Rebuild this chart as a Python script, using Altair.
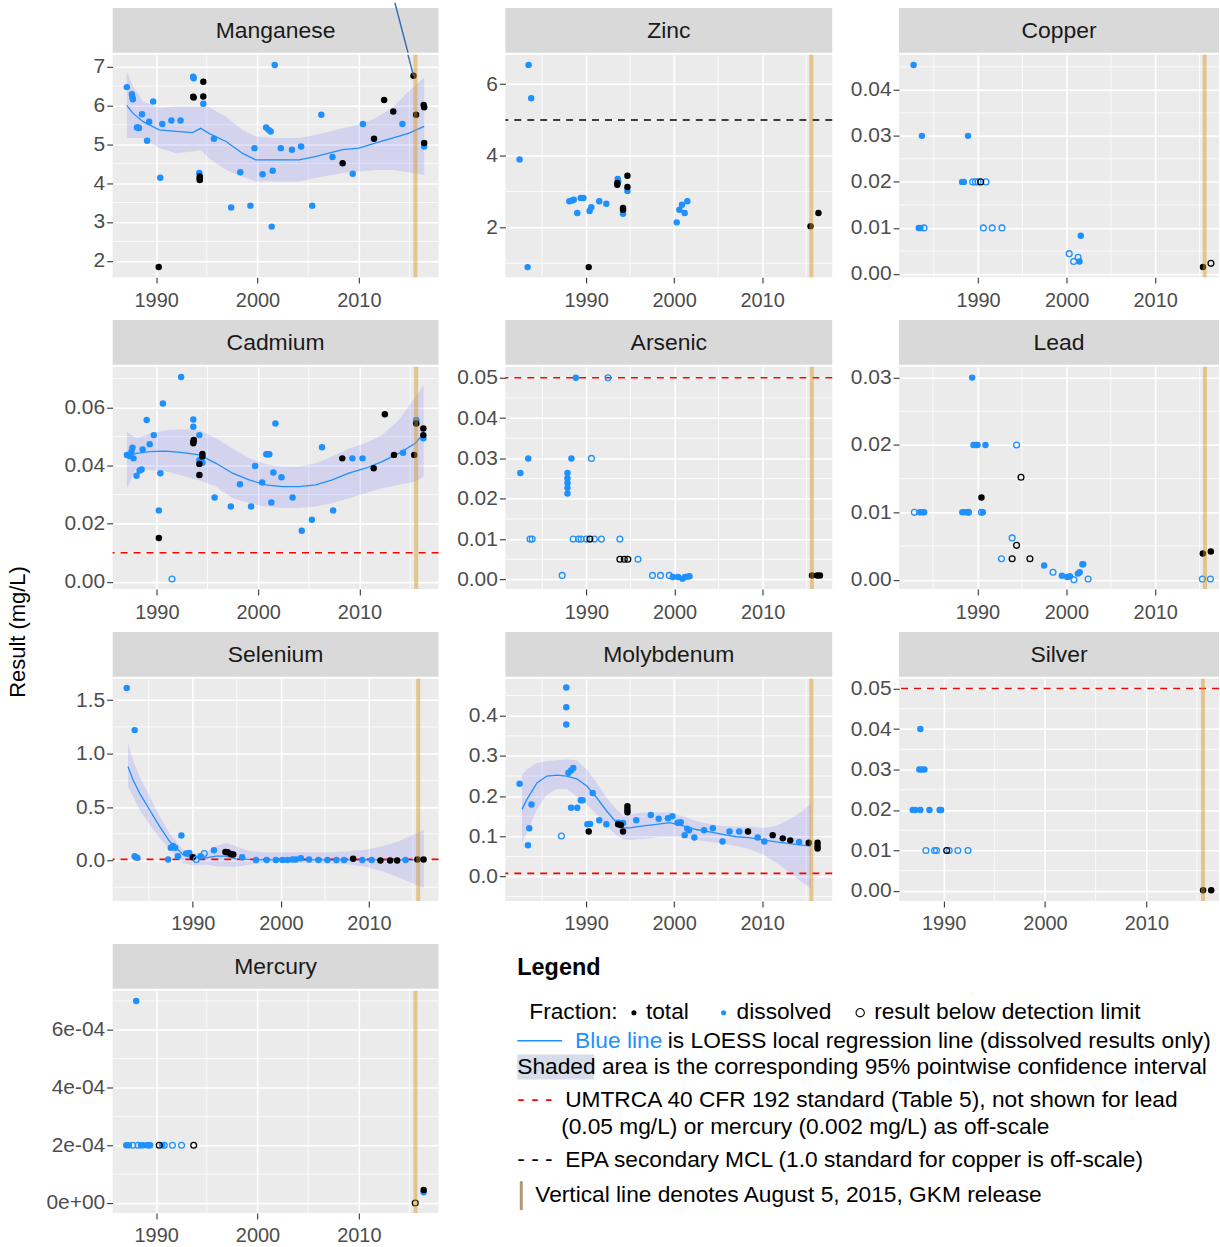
import altair as alt
import pandas as pd

# ------------------------------------------------------------------ data
# Each sample: (decimal year, result in mg/L, code)
#   D = dissolved, T = total, d / t = that fraction but below detection limit
MANGANESE = [
    (1987.1, 6.47, "D"), (1987.6, 6.29, "D"), (1987.65, 6.21, "D"), (1987.7, 6.16, "D"),
    (1988.1, 5.43, "D"), (1988.2, 5.43, "D"), (1988.3, 5.42, "D"), (1988.6, 5.77, "D"),
    (1989.1, 5.09, "D"), (1989.3, 5.58, "D"), (1989.7, 6.10, "D"), (1990.4, 4.14, "D"),
    (1990.6, 5.52, "D"), (1991.5, 5.61, "D"), (1992.4, 5.61, "D"), (1993.65, 6.74, "D"),
    (1993.7, 6.70, "D"), (1994.25, 4.26, "D"), (1994.65, 6.04, "D"), (1995.7, 5.14, "D"),
    (1997.4, 3.37, "D"), (1998.3, 4.28, "D"), (1999.3, 3.42, "D"), (1999.7, 4.90, "D"),
    (2000.5, 4.23, "D"), (2000.85, 5.43, "D"), (2001.1, 5.37, "D"), (2001.3, 5.33, "D"),
    (2001.4, 2.88, "D"), (2001.5, 4.32, "D"), (2001.7, 7.04, "D"), (2002.3, 4.90, "D"),
    (2003.4, 4.86, "D"), (2004.3, 4.94, "D"), (2005.4, 3.42, "D"), (2006.3, 5.76, "D"),
    (2007.4, 4.67, "D"), (2009.4, 4.24, "D"), (2010.4, 5.52, "D"), (2014.3, 5.52, "D"),
    (2016.45, 4.94, "D"),
    (1990.25, 1.84, "T"), (1993.7, 6.20, "T"), (1993.65, 6.22, "T"), (1994.65, 6.23, "T"),
    (1994.65, 6.61, "T"), (1994.3, 4.17, "T"), (1994.3, 4.08, "T"), (1994.3, 4.12, "T"),
    (2008.4, 4.51, "T"), (2011.5, 5.14, "T"), (2012.5, 6.14, "T"), (2013.4, 5.84, "T"),
    (2015.4, 6.76, "T"), (2015.65, 5.76, "T"), (2016.4, 6.01, "T"), (2016.45, 5.95, "T"),
    (2016.45, 5.03, "T"),
]
ZINC = [
    (1983.47, 6.54, "D"), (1983.77, 5.61, "D"), (1982.45, 3.90, "D"), (1983.36, 0.89, "D"),
    (1988.1, 2.73, "D"), (1988.4, 2.75, "D"), (1988.6, 2.77, "D"), (1989.0, 2.40, "D"),
    (1989.4, 2.82, "D"), (1989.7, 2.82, "D"), (1990.4, 2.46, "D"), (1990.6, 2.56, "D"),
    (1991.5, 2.73, "D"), (1992.3, 2.66, "D"), (1993.6, 3.35, "D"), (1993.65, 3.28, "D"),
    (1994.2, 2.38, "D"), (1994.7, 3.02, "D"), (2000.3, 2.14, "D"), (2000.6, 2.49, "D"),
    (2000.9, 2.63, "D"), (2001.2, 2.40, "D"), (2001.5, 2.73, "D"),
    (1990.3, 0.89, "T"), (1993.55, 3.24, "T"), (1993.55, 3.19, "T"), (1994.2, 2.54, "T"),
    (1994.2, 2.49, "T"), (1994.7, 3.44, "T"), (1994.7, 3.13, "T"), (2015.5, 2.03, "T"),
    (2016.4, 2.40, "T"),
]
COPPER = [
    (1982.72, 0.0454, "D"), (1983.66, 0.030, "D"), (1988.87, 0.030, "D"), (1983.3, 0.010, "D"),
    (1983.5, 0.010, "D"), (1988.2, 0.020, "D"), (1988.4, 0.020, "D"), (2001.45, 0.0027, "D"),
    (2001.6, 0.0083, "D"),
    (1983.9, 0.010, "d"), (1989.4, 0.020, "d"), (1989.7, 0.020, "d"), (1990.0, 0.020, "d"),
    (1990.9, 0.020, "d"), (1990.6, 0.010, "d"), (1991.6, 0.010, "d"), (1992.7, 0.010, "d"),
    (2000.3, 0.0044, "d"), (2000.8, 0.0027, "d"), (2001.3, 0.0036, "d"),
    (1990.3, 0.020, "t"), (2016.3, 0.0023, "t"),
    (2015.4, 0.0015, "T"),
]
CADMIUM = [
    (1987.05, 0.0437, "D"), (1987.3, 0.0433, "D"), (1987.5, 0.0448, "D"), (1987.6, 0.0462, "D"),
    (1987.7, 0.0425, "D"), (1988.0, 0.0365, "D"), (1988.3, 0.0383, "D"), (1988.5, 0.0387, "D"),
    (1988.6, 0.0456, "D"), (1989.0, 0.0557, "D"), (1989.3, 0.0474, "D"), (1989.7, 0.0505, "D"),
    (1990.2, 0.0246, "D"), (1990.35, 0.0374, "D"), (1990.6, 0.0614, "D"), (1992.4, 0.0705, "D"),
    (1993.6, 0.0559, "D"), (1993.6, 0.0534, "D"), (1994.2, 0.0505, "D"), (1994.2, 0.0419, "D"),
    (1994.5, 0.0410, "D"), (1995.7, 0.0290, "D"), (1997.3, 0.0259, "D"), (1998.2, 0.0336, "D"),
    (1999.3, 0.0259, "D"), (1999.7, 0.0399, "D"), (2000.4, 0.0342, "D"), (2000.8, 0.0439, "D"),
    (2000.95, 0.0439, "D"), (2001.1, 0.0439, "D"), (2001.3, 0.0273, "D"), (2001.5, 0.0376, "D"),
    (2001.7, 0.0545, "D"), (2002.3, 0.0360, "D"), (2003.4, 0.0290, "D"), (2004.3, 0.0176, "D"),
    (2005.3, 0.0214, "D"), (2006.3, 0.0463, "D"), (2007.4, 0.0246, "D"), (2009.3, 0.0425, "D"),
    (2010.3, 0.0425, "D"), (2014.3, 0.0444, "D"), (2015.6, 0.0557, "D"), (2016.3, 0.0494, "D"),
    (1991.5, 0.0010, "d"),
    (1990.2, 0.0151, "T"), (1993.6, 0.0482, "T"), (1993.6, 0.0477, "T"), (1993.65, 0.0488, "T"),
    (1994.2, 0.0406, "T"), (1994.2, 0.0368, "T"), (1994.5, 0.0440, "T"), (1994.5, 0.0431, "T"),
    (2008.3, 0.0425, "T"), (2011.4, 0.0391, "T"), (2012.5, 0.0577, "T"), (2013.4, 0.0437, "T"),
    (2015.4, 0.0437, "T"), (2015.6, 0.0545, "T"), (2016.3, 0.0528, "T"), (2016.3, 0.0505, "T"),
]
ARSENIC = [
    (1982.5, 0.0264, "D"), (1983.4, 0.030, "D"), (1988.8, 0.050, "D"), (1988.3, 0.030, "D"),
    (1987.85, 0.0264, "D"), (1987.85, 0.0251, "D"), (1987.85, 0.0239, "D"), (1987.85, 0.0227, "D"),
    (1987.85, 0.0213, "D"), (1999.8, 0.0006, "D"), (2000.4, 0.0006, "D"), (2000.9, 0.0002, "D"),
    (2001.2, 0.0006, "D"), (2001.5, 0.0007, "D"), (2001.7, 0.0008, "D"),
    (1992.45, 0.050, "d"), (1983.6, 0.010, "d"), (1983.85, 0.010, "d"), (1987.25, 0.001, "d"),
    (1990.57, 0.030, "d"), (1988.5, 0.010, "d"), (1989.1, 0.010, "d"), (1989.4, 0.010, "d"),
    (1990.0, 0.010, "d"), (1990.9, 0.010, "d"), (1991.7, 0.010, "d"), (1993.8, 0.010, "d"),
    (1995.85, 0.005, "d"), (1997.5, 0.001, "d"), (1998.4, 0.001, "d"), (1999.4, 0.001, "d"),
    (1990.4, 0.010, "t"), (1993.8, 0.005, "t"), (1994.3, 0.005, "t"), (1994.7, 0.005, "t"),
    (2015.6, 0.001, "T"), (2016.2, 0.001, "T"), (2016.5, 0.001, "T"),
]
LEAD = [
    (1989.4, 0.030, "D"), (1989.55, 0.020, "D"), (1989.8, 0.020, "D"), (1990.0, 0.020, "D"),
    (1990.9, 0.020, "D"), (1983.5, 0.010, "D"), (1983.8, 0.010, "D"), (1984.0, 0.010, "D"),
    (1988.3, 0.010, "D"), (1988.6, 0.010, "D"), (1988.9, 0.010, "D"), (1990.6, 0.010, "D"),
    (1997.5, 0.0021, "D"), (1999.5, 0.0006, "D"), (2000.1, 0.0004, "D"), (2000.4, 0.0005, "D"),
    (2001.3, 0.0009, "D"), (2001.5, 0.0011, "D"), (2001.8, 0.0023, "D"), (2001.9, 0.0023, "D"),
    (1982.9, 0.010, "d"), (1989.0, 0.010, "d"), (1990.45, 0.010, "d"), (1994.4, 0.020, "d"),
    (1993.9, 0.0062, "d"), (1992.7, 0.0031, "d"), (1998.5, 0.0011, "d"), (2000.85, 0.0, "d"),
    (2002.45, 0.0001, "d"), (2015.3, 0.0001, "d"), (2016.2, 0.0001, "d"),
    (1994.9, 0.0152, "t"), (1994.4, 0.0051, "t"), (1993.9, 0.0031, "t"), (1995.9, 0.0031, "t"),
    (1990.45, 0.0122, "T"), (2015.35, 0.0039, "T"), (2016.25, 0.0042, "T"),
]
SELENIUM = [
    (1982.5, 1.615, "D"), (1983.4, 1.22, "D"), (1983.4, 0.04, "D"), (1983.7, 0.025, "D"),
    (1987.2, 0.01, "D"), (1987.5, 0.12, "D"), (1987.75, 0.135, "D"), (1988.0, 0.12, "D"),
    (1988.3, 0.04, "D"), (1988.7, 0.233, "D"), (1989.25, 0.065, "D"), (1989.6, 0.07, "D"),
    (1990.9, 0.04, "D"), (1992.4, 0.096, "D"), (1995.6, 0.03, "D"), (1997.17, 0.005, "D"),
    (1998.38, 0.005, "D"), (1999.43, 0.005, "D"), (2000.19, 0.005, "D"), (2000.75, 0.005, "D"),
    (2001.32, 0.01, "D"), (2001.7, 0.01, "D"), (2002.26, 0.02, "D"), (2003.2, 0.01, "D"),
    (2004.26, 0.005, "D"), (2005.28, 0.005, "D"), (2006.3, 0.005, "D"), (2007.17, 0.005, "D"),
    (2009.25, 0.005, "D"), (2010.3, 0.005, "D"), (2014.15, 0.005, "D"),
    (1990.4, 0.01, "d"), (1991.3, 0.065, "d"),
    (1990.0, 0.03, "T"), (1993.7, 0.08, "T"), (1993.95, 0.077, "T"), (1994.3, 0.06, "T"),
    (1994.6, 0.056, "T"), (2008.2, 0.016, "T"), (2011.3, 0.0, "T"), (2012.4, 0.0, "T"),
    (2013.2, 0.0, "T"), (2015.5, 0.01, "T"), (2016.2, 0.01, "T"),
]
MOLYBDENUM = [
    (1982.45, 0.231, "D"), (1983.4, 0.078, "D"), (1983.55, 0.120, "D"), (1983.8, 0.179, "D"),
    (1987.75, 0.470, "D"), (1987.75, 0.421, "D"), (1987.75, 0.378, "D"), (1988.0, 0.258, "D"),
    (1988.3, 0.264, "D"), (1988.55, 0.270, "D"), (1988.3, 0.171, "D"), (1989.0, 0.171, "D"),
    (1989.4, 0.190, "D"), (1989.6, 0.190, "D"), (1990.15, 0.130, "D"), (1990.45, 0.131, "D"),
    (1990.75, 0.208, "D"), (1991.5, 0.140, "D"), (1992.3, 0.130, "D"), (1993.65, 0.134, "D"),
    (1994.2, 0.133, "D"), (1995.7, 0.140, "D"), (1997.35, 0.153, "D"), (1998.25, 0.144, "D"),
    (1999.3, 0.145, "D"), (1999.8, 0.150, "D"), (2000.4, 0.134, "D"), (2000.75, 0.135, "D"),
    (2001.2, 0.103, "D"), (2001.5, 0.119, "D"), (2001.7, 0.115, "D"), (2002.3, 0.097, "D"),
    (2003.4, 0.115, "D"), (2004.4, 0.120, "D"), (2005.5, 0.087, "D"), (2006.3, 0.112, "D"),
    (2007.4, 0.112, "D"), (2009.5, 0.097, "D"), (2010.25, 0.087, "D"), (2014.2, 0.086, "D"),
    (1987.2, 0.101, "d"),
    (1990.3, 0.112, "T"), (1993.65, 0.130, "T"), (1993.95, 0.128, "T"), (1994.2, 0.112, "T"),
    (1994.7, 0.175, "T"), (1994.7, 0.167, "T"), (1994.7, 0.160, "T"), (2008.4, 0.112, "T"),
    (2011.2, 0.103, "T"), (2012.35, 0.095, "T"), (2013.2, 0.090, "T"), (2015.3, 0.084, "T"),
    (2016.3, 0.084, "T"), (2016.3, 0.076, "T"), (2016.3, 0.070, "T"),
]
SILVER = [
    (1987.7, 0.040, "D"), (1987.6, 0.030, "D"), (1987.85, 0.030, "D"), (1988.1, 0.030, "D"),
    (1986.95, 0.020, "D"), (1987.2, 0.020, "D"), (1987.7, 0.020, "D"), (1988.6, 0.020, "D"),
    (1989.6, 0.020, "D"), (1989.75, 0.020, "D"),
    (1988.25, 0.010, "d"), (1989.1, 0.010, "d"), (1989.3, 0.010, "d"), (1990.55, 0.010, "d"),
    (1991.4, 0.010, "d"), (1992.4, 0.010, "d"),
    (1990.3, 0.010, "t"),
    (2015.6, 0.0002, "T"), (2016.4, 0.0002, "T"),
]
MERCURY = [
    (1988.03, 0.00070, "D"), (1987.05, 0.0002, "D"), (1987.3, 0.0002, "D"), (1988.5, 0.0002, "D"),
    (1988.7, 0.0002, "D"), (1989.1, 0.0002, "D"), (1989.3, 0.0002, "D"), (1989.4, 0.0002, "D"),
    (1990.6, 0.0002, "D"), (2016.4, 0.000037, "D"),
    (1987.7, 0.0002, "d"), (1988.2, 0.0002, "d"), (1990.8, 0.0002, "d"), (1991.6, 0.0002, "d"),
    (1992.5, 0.0002, "d"),
    (1990.3, 0.0002, "t"), (1993.7, 0.0002, "t"), (2015.57, 0.0, "t"),
    (2016.4, 0.000045, "T"),
]

# LOESS fits of the dissolved results: year, fitted value, 95% band low / high
MN_FIT_YEAR = [1987.1, 1987.7, 1988.7, 1990.3, 1991.97, 1993.6, 1994.4, 1995.2, 1996.9, 1998.5,
               1999.8, 2001.8, 2004.1, 2005.7, 2008.4, 2010.0, 2011.6, 2013.3, 2014.9, 2016.45]
MN_FIT = [6.00, 5.80, 5.58, 5.37, 5.33, 5.30, 5.41, 5.28, 5.07, 4.77,
          4.60, 4.60, 4.60, 4.68, 4.86, 4.90, 5.03, 5.16, 5.28, 5.46]
MN_LO = [5.16, 5.16, 5.16, 4.90, 4.77, 4.81, 4.85, 4.64, 4.34, 4.17,
         4.04, 4.04, 4.04, 4.13, 4.26, 4.30, 4.34, 4.34, 4.28, 4.21]
MN_HI = [6.87, 6.49, 6.10, 5.93, 5.97, 5.97, 5.97, 5.95, 5.71, 5.37,
         5.20, 5.16, 5.16, 5.24, 5.41, 5.50, 5.67, 5.93, 6.36, 6.72]

CD_FIT_YEAR = [1987.05, 1987.97, 1989.28, 1990.92, 1992.56, 1994.2, 1995.84, 1997.48, 1999.11, 2000.75,
               2002.39, 2004.03, 2005.67, 2007.31, 2008.95, 2010.59, 2012.23, 2013.87, 2015.51, 2016.33]
CD_FIT = [0.0431, 0.0442, 0.0448, 0.0450, 0.0445, 0.0437, 0.0408, 0.0374, 0.0351, 0.0334,
          0.0328, 0.0328, 0.0334, 0.0351, 0.0374, 0.0391, 0.0414, 0.0442, 0.0477, 0.0511]
CD_LO = [0.0322, 0.0391, 0.0385, 0.0380, 0.0365, 0.0349, 0.0328, 0.0288, 0.0271, 0.0259,
         0.0254, 0.0254, 0.0259, 0.0271, 0.0288, 0.0305, 0.0322, 0.0334, 0.0345, 0.0362]
CD_HI = [0.0517, 0.0494, 0.0511, 0.0522, 0.0525, 0.0522, 0.0494, 0.0459, 0.0425, 0.0405,
         0.0397, 0.0397, 0.0408, 0.0431, 0.0459, 0.0477, 0.0505, 0.0557, 0.0637, 0.0677]

SE_FIT_YEAR = [1982.64, 1983.21, 1983.96, 1985.09, 1986.23, 1987.36, 1988.11, 1988.87, 1990.0, 1991.51,
               1992.64, 1993.77, 1994.91, 1996.42, 1998.3, 2000.19, 2002.08, 2003.96, 2005.85, 2007.74,
               2009.62, 2011.51, 2013.4, 2015.28, 2016.23]
SE_FIT = [0.880, 0.755, 0.630, 0.475, 0.320, 0.180, 0.118, 0.056, 0.025, 0.025,
          0.040, 0.040, 0.016, 0.010, 0.006, 0.005, 0.005, 0.005, 0.005, 0.005,
          0.005, 0.005, 0.005, 0.005, 0.005]
SE_LO = [0.693, 0.600, 0.475, 0.335, 0.211, 0.109, 0.025, -0.022, -0.047, -0.037,
         -0.053, -0.059, -0.059, -0.037, -0.022, -0.022, -0.022, -0.022, -0.031, -0.037,
         -0.059, -0.100, -0.160, -0.224, -0.255]
SE_HI = [1.096, 0.940, 0.786, 0.600, 0.413, 0.258, 0.180, 0.100, 0.065, 0.077,
         0.133, 0.164, 0.133, 0.087, 0.077, 0.077, 0.077, 0.077, 0.077, 0.087,
         0.100, 0.133, 0.180, 0.250, 0.289]

MO_FIT_YEAR = [1982.72, 1983.28, 1984.42, 1985.55, 1986.68, 1987.81, 1988.94, 1990.08, 1991.21, 1992.34,
               1993.47, 1994.23, 1994.98, 1996.49, 1998.0, 1999.51, 2001.02, 2002.53, 2004.04, 2005.55,
               2007.06, 2008.57, 2010.08, 2011.58, 2013.09, 2014.6, 2015.55]
MO_FIT = [0.167, 0.192, 0.233, 0.250, 0.252, 0.250, 0.243, 0.225, 0.196, 0.163,
          0.134, 0.121, 0.121, 0.126, 0.130, 0.134, 0.126, 0.117, 0.111, 0.105,
          0.099, 0.097, 0.091, 0.086, 0.082, 0.078, 0.076]
MO_LO = [0.084, 0.109, 0.167, 0.204, 0.218, 0.218, 0.200, 0.179, 0.155, 0.126,
         0.102, 0.093, 0.091, 0.094, 0.097, 0.099, 0.097, 0.091, 0.086, 0.082,
         0.076, 0.068, 0.055, 0.035, 0.010, -0.015, -0.031]
MO_HI = [0.254, 0.266, 0.283, 0.287, 0.289, 0.291, 0.289, 0.266, 0.233, 0.196,
         0.167, 0.150, 0.155, 0.159, 0.159, 0.159, 0.150, 0.138, 0.131, 0.126,
         0.124, 0.124, 0.121, 0.126, 0.142, 0.163, 0.183]

# Standards: UMTRCA (red) and EPA secondary MCL (black)
UMTRCA = {"Cadmium": 0.01, "Arsenic": 0.05, "Selenium": 0.01, "Molybdenum": 0.008, "Silver": 0.05}
EPA_SMCL = {"Zinc": 5.0}

RELEASE_DATE = 2015.59          # August 5, 2015
MN_CALLOUT = [(2013.56, 8.59, 2015.40, 6.76)]   # pointer drawn onto the 2015 manganese result

YEAR_TICKS = [1990, 2000, 2010]

MN_TICKS, MN_LABELS = [2, 3, 4, 5, 6, 7], ["2", "3", "4", "5", "6", "7"]
ZN_TICKS, ZN_LABELS = [2, 4, 6], ["2", "4", "6"]
CU_TICKS, CU_LABELS = [0, 0.01, 0.02, 0.03, 0.04], ["0.00", "0.01", "0.02", "0.03", "0.04"]
CD_TICKS, CD_LABELS = [0, 0.02, 0.04, 0.06], ["0.00", "0.02", "0.04", "0.06"]
AS_TICKS, AS_LABELS = [0, 0.01, 0.02, 0.03, 0.04, 0.05], ["0.00", "0.01", "0.02", "0.03", "0.04", "0.05"]
PB_TICKS, PB_LABELS = [0, 0.01, 0.02, 0.03], ["0.00", "0.01", "0.02", "0.03"]
SE_TICKS, SE_LABELS = [0, 0.5, 1.0, 1.5], ["0.0", "0.5", "1.0", "1.5"]
MO_TICKS, MO_LABELS = [0, 0.1, 0.2, 0.3, 0.4], ["0.0", "0.1", "0.2", "0.3", "0.4"]
AG_TICKS, AG_LABELS = [0, 0.01, 0.02, 0.03, 0.04, 0.05], ["0.00", "0.01", "0.02", "0.03", "0.04", "0.05"]
HG_TICKS, HG_LABELS = [0, 0.0002, 0.0004, 0.0006], ["0e+00", "2e-04", "4e-04", "6e-04"]

Y_TITLE = "Result (mg/L)"
LEGEND_TITLE = "Legend"
LEGEND_FRACTION = ["Fraction:", "total", "dissolved", "result below detection limit"]
LEGEND_BLUE = ["Blue line", "is LOESS local regression line (dissolved results only)"]
LEGEND_SHADED = "Shaded area is the corresponding 95% pointwise confidence interval"
LEGEND_UMTRCA = ["UMTRCA 40 CFR 192 standard (Table 5), not shown for lead",
                 "(0.05 mg/L) or mercury (0.002 mg/L) as off-scale"]
LEGEND_EPA = "EPA secondary MCL (1.0 standard for copper is off-scale)"
LEGEND_RELEASE = "Vertical line denotes August 5, 2015, GKM release"

# ------------------------------------------------------------------ style
FONT = "Liberation Sans, Arial, sans-serif"
BLUE = "#1E90FF"
PANEL_BG = "#EBEBEB"
STRIP_BG = "#D9D9D9"
RELEASE_COLOR = "#D4961A"

PLOT_H = 223
STRIP_H = 45
FIRST_GAP = 6
GAP = 10
SPACING = 17
TITLE_W = 28
LEGEND_FS = 22.8

AXIS_BASE = dict(
    grid=True, gridColor="white", gridWidth=1.6, domain=False,
    ticks=True, tickColor="#333333", tickSize=6, tickWidth=1.1,
    labelFont=FONT, labelColor="#4D4D4D",
    labelOverlap=False, labelFlush=False, title=None,
)
X_AXIS_STYLE = dict(AXIS_BASE, labelFontSize=20, labelPadding=7)
Y_AXIS_STYLE = dict(AXIS_BASE, labelFontSize=21, labelPadding=2)

PANELS = {
    "Manganese": dict(points=MANGANESE, xdom=[1985.70, 2017.87], ydom=[1.58, 7.30],
                      yticks=MN_TICKS, ylabels=MN_LABELS, yminor=[2.5, 3.5, 4.5, 5.5, 6.5],
                      xminor=[1995, 2005, 2015], fit=(MN_FIT_YEAR, MN_FIT, MN_LO, MN_HI),
                      callout=MN_CALLOUT),
    "Zinc": dict(points=ZINC, xdom=[1980.83, 2017.97], ydom=[0.61, 6.82],
                 yticks=ZN_TICKS, ylabels=ZN_LABELS, yminor=[1, 3, 5],
                 xminor=[1985, 1995, 2005, 2015]),
    "Copper": dict(points=COPPER, xdom=[1981.08, 2017.21], ydom=[-0.0007, 0.0476],
                   yticks=CU_TICKS, ylabels=CU_LABELS, yminor=[0.005, 0.015, 0.025, 0.035, 0.045],
                   xminor=[1985, 1995, 2005, 2015]),
    "Cadmium": dict(points=CADMIUM, xdom=[1985.64, 2017.80], ydom=[-0.0025, 0.0740],
                    yticks=CD_TICKS, ylabels=CD_LABELS, yminor=[0.01, 0.03, 0.05, 0.07],
                    xminor=[1995, 2005, 2015], fit=(CD_FIT_YEAR, CD_FIT, CD_LO, CD_HI)),
    "Arsenic": dict(points=ARSENIC, xdom=[1980.80, 2017.90], ydom=[-0.0024, 0.0527],
                    yticks=AS_TICKS, ylabels=AS_LABELS, yminor=[0.005, 0.015, 0.025, 0.035, 0.045],
                    xminor=[1985, 1995, 2005, 2015]),
    "Lead": dict(points=LEAD, xdom=[1981.18, 2017.17], ydom=[-0.0014, 0.0316],
                 yticks=PB_TICKS, ylabels=PB_LABELS, yminor=[0.005, 0.015, 0.025],
                 xminor=[1985, 1995, 2005, 2015]),
    "Selenium": dict(points=SELENIUM, xdom=[1980.90, 2017.90], ydom=[-0.38, 1.70],
                     yticks=SE_TICKS, ylabels=SE_LABELS, yminor=[-0.25, 0.25, 0.75, 1.25],
                     xminor=[1985, 1995, 2005, 2015], fit=(SE_FIT_YEAR, SE_FIT, SE_LO, SE_HI)),
    "Molybdenum": dict(points=MOLYBDENUM, xdom=[1980.83, 2017.97], ydom=[-0.061, 0.4917],
                       yticks=MO_TICKS, ylabels=MO_LABELS, yminor=[-0.05, 0.05, 0.15, 0.25, 0.35, 0.45],
                       xminor=[1985, 1995, 2005, 2015], fit=(MO_FIT_YEAR, MO_FIT, MO_LO, MO_HI)),
    "Silver": dict(points=SILVER, xdom=[1985.60, 2017.17], ydom=[-0.0025, 0.0524],
                   yticks=AG_TICKS, ylabels=AG_LABELS, yminor=[0.005, 0.015, 0.025, 0.035, 0.045],
                   xminor=[1995, 2005, 2015]),
    "Mercury": dict(points=MERCURY, xdom=[1985.70, 2017.87], ydom=[-0.000035, 0.000735],
                    yticks=HG_TICKS, ylabels=HG_LABELS, yminor=[0.0001, 0.0003, 0.0005, 0.0007],
                    xminor=[1995, 2005, 2015]),
}


def label_expr(ticks, labels):
    tol = (max(ticks) - min(ticks)) * 1e-6
    parts = [f"abs(datum.value - ({t})) < {tol} ? '{l}'" for t, l in zip(ticks, labels)]
    return " : ".join(parts) + " : ''"


def samples(rows):
    df = pd.DataFrame({
        "year": [r[0] for r in rows],
        "value": [r[1] for r in rows],
        "fraction": ["dissolved" if r[2] in "Dd" else "total" for r in rows],
        "below": [r[2] in "dt" for r in rows],
    })
    # dissolved first so the total results sit on top
    df["order"] = (df["fraction"] == "total").astype(int)
    return df.sort_values("order", kind="stable").reset_index(drop=True)


def build_plot(name, width):
    p = PANELS[name]
    xs = alt.Scale(domain=p["xdom"], nice=False, zero=False)
    ys = alt.Scale(domain=p["ydom"], nice=False, zero=False)
    xaxis = alt.Axis(values=YEAR_TICKS, format="d", **X_AXIS_STYLE)
    yaxis = alt.Axis(values=p["yticks"], labelExpr=label_expr(p["yticks"], p["ylabels"]), **Y_AXIS_STYLE)

    def X(f):
        return alt.X(f, type="quantitative", scale=xs, axis=xaxis)

    def Y(f):
        return alt.Y(f, type="quantitative", scale=ys, axis=yaxis)

    color = alt.Color("fraction:N", scale=alt.Scale(domain=["total", "dissolved"], range=["black", BLUE]),
                      legend=None)
    layers = [
        alt.Chart(pd.DataFrame({"v": p["xminor"]})).mark_rule(color="white", strokeWidth=0.8, clip=True)
        .encode(x=X("v")),
        alt.Chart(pd.DataFrame({"v": p["yminor"]})).mark_rule(color="white", strokeWidth=0.8, clip=True)
        .encode(y=Y("v")),
    ]
    if "fit" in p:
        fy, ff, flo, fhi = p["fit"]
        fit = pd.DataFrame({"year": fy, "fit": ff, "lo": flo, "hi": fhi})
        layers.append(alt.Chart(fit).mark_area(color="blue", opacity=0.1, clip=True)
                      .encode(x=X("year"), y=Y("lo"), y2="hi"))
        layers.append(alt.Chart(fit).mark_line(color=BLUE, strokeWidth=1.3, clip=True)
                      .encode(x=X("year"), y=Y("fit")))
    if name in UMTRCA:
        layers.append(alt.Chart(pd.DataFrame({"v": [UMTRCA[name]]}))
                      .mark_rule(color="#FF0000", strokeDash=[7, 6], strokeWidth=1.6)
                      .encode(y=Y("v")))
    if name in EPA_SMCL:
        layers.append(alt.Chart(pd.DataFrame({"v": [EPA_SMCL[name]]}))
                      .mark_rule(color="black", strokeDash=[7, 6], strokeWidth=1.6)
                      .encode(y=Y("v")))
    df = samples(p["points"])
    layers.append(alt.Chart(df[~df["below"]]).mark_circle(size=42, opacity=1, clip=True)
                  .encode(x=X("year"), y=Y("value"), color=color))
    layers.append(alt.Chart(df[df["below"]]).mark_point(shape="circle", filled=False, size=34,
                                                        strokeWidth=1.3, opacity=1, clip=True)
                  .encode(x=X("year"), y=Y("value"), color=color))
    layers.append(alt.Chart(pd.DataFrame({"v": [RELEASE_DATE]}))
                  .mark_rule(color=RELEASE_COLOR, opacity=0.45, strokeWidth=4)
                  .encode(x=X("v")))
    if "callout" in p:
        c = pd.DataFrame(p["callout"], columns=["x1", "y1", "x2", "y2"])
        layers.append(alt.Chart(c).mark_rule(color="#2E6DB4", strokeWidth=1.4, clip=True)
                      .encode(x=X("x1"), y=Y("y1"), x2="x2", y2="y2"))
    return alt.layer(*layers).properties(
        width=width, height=PLOT_H,
        view=alt.ViewBackground(fill=PANEL_BG, stroke="transparent"))


def build_strip(name, width, gap):
    p = PANELS[name]
    base = alt.Chart(pd.DataFrame({"label": [name]}))
    layers = [
        base.mark_rect(color=STRIP_BG).encode(
            x=alt.value(0), x2=alt.value(width), y=alt.value(gap), y2=alt.value(gap + STRIP_H)),
        base.mark_text(font=FONT, fontSize=23, color="#1A1A1A", align="center", baseline="middle")
        .encode(text="label:N", x=alt.value(width / 2), y=alt.value(gap + STRIP_H / 2 + 1)),
    ]
    if "callout" in p:
        # continue the pointer above the panel with the panel's own scales
        y0, y1 = p["ydom"]
        top = y1 + (gap + STRIP_H) * (y1 - y0) / PLOT_H
        xs = alt.Scale(domain=p["xdom"], nice=False, zero=False)
        ys = alt.Scale(domain=[y1, top], nice=False, zero=False)
        c = pd.DataFrame(p["callout"], columns=["x1", "y1", "x2", "y2"])
        layers.append(alt.Chart(c).mark_rule(color="#2E6DB4", strokeWidth=1.4, clip=True).encode(
            x=alt.X("x1:Q", scale=xs, axis=None), y=alt.Y("y1:Q", scale=ys, axis=None),
            x2="x2", y2="y2"))
    return alt.layer(*layers).properties(
        width=width, height=gap + STRIP_H,
        view=alt.ViewBackground(fill="white", stroke="transparent"))


def build_column(names, width):
    items = []
    for i, name in enumerate(names):
        items.append(build_strip(name, width, FIRST_GAP if i == 0 else GAP))
        items.append(build_plot(name, width))
    return alt.vconcat(*items, spacing=0)


# legend block sits under Molybdenum / Silver; positions are page pixels minus its origin
LEG_X0 = 505
LEG_Y0 = 944 - GAP


def legend_block():
    def lx(x):
        return alt.value(x - LEG_X0)

    def ly(y):
        return alt.value(y - LEG_Y0)

    def text(s, x, y, color="black", size=LEGEND_FS, weight="normal"):
        return alt.Chart(pd.DataFrame({"t": [s]})).mark_text(
            font=FONT, fontSize=size, fontWeight=weight, color=color, align="left", baseline="middle"
        ).encode(text="t:N", x=lx(x), y=ly(y))

    dot = alt.Chart(pd.DataFrame({"k": [0]}))
    layers = [
        text(LEGEND_TITLE, 517, 968, size=23.5, weight="bold"),
        text(LEGEND_FRACTION[0], 529, 1012),
        dot.mark_circle(size=26, color="black", opacity=1).encode(x=lx(634), y=ly(1013)),
        text(LEGEND_FRACTION[1], 646, 1012),
        dot.mark_circle(size=26, color=BLUE, opacity=1).encode(x=lx(724), y=ly(1013)),
        text(LEGEND_FRACTION[2], 737, 1012),
        dot.mark_point(shape="circle", filled=False, size=70, color="black", strokeWidth=1.1,
                       opacity=1).encode(x=lx(861), y=ly(1013)),
        text(LEGEND_FRACTION[3], 875, 1012),
        dot.mark_rule(color=BLUE, strokeWidth=1.5).encode(x=lx(517), x2=lx(562), y=ly(1041)),
        text(LEGEND_BLUE[0], 575, 1041, color=BLUE),
        text(LEGEND_BLUE[1], 668, 1041),
        dot.mark_rect(color="#D6DDE8").encode(x=lx(517), x2=lx(594), y=ly(1055), y2=ly(1080)),
        text(LEGEND_SHADED, 517, 1067),
        text("- - -", 517, 1100, color="#FF0000"),
        text(LEGEND_UMTRCA[0], 565, 1101),
        text(LEGEND_UMTRCA[1], 561, 1128),
        text("- - -", 517, 1160),
        text(LEGEND_EPA, 565, 1161),
        dot.mark_rule(color="#B39870", strokeWidth=3).encode(x=lx(521), y=ly(1182), y2=ly(1211)),
        text(LEGEND_RELEASE, 535, 1196),
    ]
    return alt.layer(*layers).properties(
        width=700, height=300, view=alt.ViewBackground(fill="white", stroke="transparent"))


y_title = alt.Chart(pd.DataFrame({"t": [Y_TITLE]})).mark_text(
    font=FONT, fontSize=22, color="black", angle=270, align="center", baseline="middle"
).encode(text="t:N", x=alt.value(18), y=alt.value(632)).properties(
    width=TITLE_W, height=1212, view=alt.ViewBackground(fill="white", stroke="transparent"))

col1 = build_column(["Manganese", "Cadmium", "Selenium", "Mercury"], 327)
col2 = build_column(["Zinc", "Arsenic", "Molybdenum"], 328)
col3 = build_column(["Copper", "Lead", "Silver"], 321)
right = alt.vconcat(alt.hconcat(col2, col3, spacing=SPACING), legend_block(), spacing=0)

chart = (
    alt.hconcat(y_title, col1, right, spacing=SPACING)
    .configure_view(strokeWidth=0)
    .properties(padding=0, background="white")
)
chart.save("out.html", embed_options={"renderer": "svg", "actions": False})
